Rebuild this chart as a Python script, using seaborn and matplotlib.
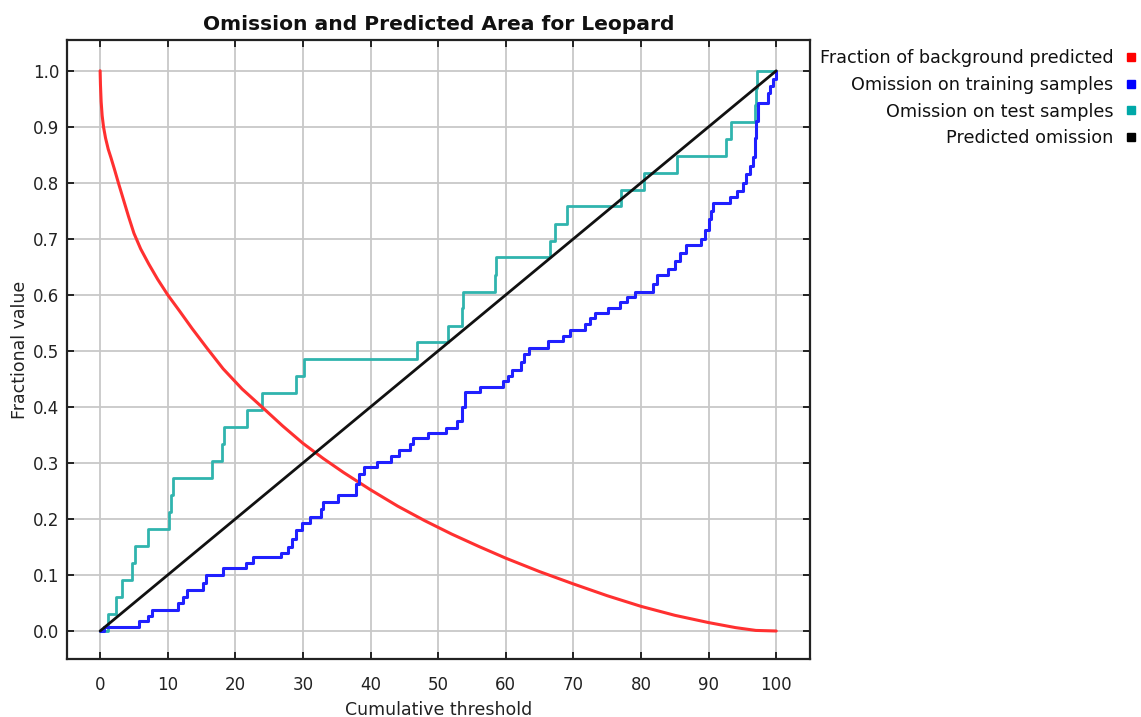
import matplotlib
matplotlib.use("Agg")
import matplotlib.pyplot as plt
from matplotlib.lines import Line2D
import seaborn as sns
import pandas as pd

# ---------------- data ----------------
title = "Omission and Predicted Area for Leopard"
x_label = "Cumulative threshold"
y_label = "Fractional value"

series_names = ["Fraction of background predicted",
                "Omission on training samples",
                "Omission on test samples",
                "Predicted omission"]

# Fraction of background predicted (smooth curve)
bg_x = [0, 0.05, 0.15, 0.3, 0.5, 0.8, 1.2, 1.6, 2.1, 2.7, 3.4, 4.2, 5.0, 6.0,
        7.2, 8.5, 10.0, 11.7, 13.6, 15.8, 18.2, 21.0, 24.2, 27.0, 30.0, 33.0,
        36.0, 40.0, 44.0, 48.0, 52.0, 56.0, 60.0, 65.0, 70.0, 75.0, 80.0, 85.0,
        90.0, 94.0, 97.0, 100.0]
bg_y = [1.0, 0.975, 0.945, 0.92, 0.90, 0.88, 0.86, 0.845, 0.825, 0.80, 0.772,
        0.74, 0.71, 0.682, 0.655, 0.628, 0.60, 0.572, 0.54, 0.505, 0.468, 0.432,
        0.397, 0.366, 0.335, 0.308, 0.283, 0.252, 0.223, 0.197, 0.173, 0.151,
        0.13, 0.106, 0.084, 0.063, 0.044, 0.028, 0.015, 0.006, 0.001, 0.0]

# Omission on training samples (step curve: threshold, value after step)
train_x = [0, 0.5, 5.7, 7.1, 7.7, 11.5, 12.2, 12.8, 15.2, 15.7, 18.2, 21.6, 22.6,
           26.7, 27.8, 28.4, 29.0, 29.8, 31.0, 32.6, 33.0, 35.2, 37.8, 38.3, 39.0,
           40.9, 43.0, 44.2, 45.9, 46.3, 48.5, 51.2, 52.8, 53.5, 53.9, 56.2, 59.6,
           60.3, 60.9, 62.2, 62.7, 63.4, 66.3, 68.5, 69.5, 71.7, 72.5, 73.2, 75.1,
           76.9, 78.0, 79.1, 81.8, 82.3, 84.0, 85.0, 85.8, 86.6, 88.9, 89.5, 90.0,
           90.4, 90.7, 93.2, 94.2, 95.1, 95.6, 96.1, 96.6, 96.8, 97.0, 97.3, 98.8,
           99.1, 99.5, 99.9]
train_y = [0.0, 0.008, 0.017, 0.026, 0.038, 0.05, 0.06, 0.073, 0.085, 0.10, 0.112,
           0.122, 0.132, 0.14, 0.15, 0.165, 0.18, 0.193, 0.204, 0.217, 0.231, 0.243,
           0.262, 0.28, 0.293, 0.302, 0.312, 0.323, 0.334, 0.344, 0.353, 0.363,
           0.374, 0.40, 0.427, 0.436, 0.446, 0.456, 0.466, 0.48, 0.494, 0.505,
           0.517, 0.527, 0.537, 0.548, 0.558, 0.568, 0.577, 0.587, 0.597, 0.606,
           0.62, 0.636, 0.646, 0.66, 0.675, 0.689, 0.70, 0.716, 0.735, 0.75, 0.764,
           0.775, 0.785, 0.80, 0.815, 0.83, 0.847, 0.88, 0.91, 0.943, 0.96, 0.972,
           0.985, 1.0]

# Omission on test samples (step curve: threshold, value after step)
test_x = [0, 1.1, 2.4, 3.3, 4.7, 5.2, 7.1, 10.2, 10.5, 10.8, 16.5, 18.1, 18.3,
          21.7, 23.9, 28.9, 30.1, 46.8, 51.5, 53.5, 53.6, 58.4, 58.6, 66.6, 67.3,
          69.0, 77.1, 80.5, 85.3, 92.6, 93.3, 96.8, 97.0, 97.1, 100.0]
test_y = [0.0, 0.030, 0.061, 0.091, 0.121, 0.152, 0.182, 0.212, 0.242, 0.273,
          0.303, 0.333, 0.364, 0.394, 0.424, 0.455, 0.485, 0.515, 0.545, 0.576,
          0.606, 0.636, 0.667, 0.697, 0.727, 0.758, 0.788, 0.818, 0.848, 0.879,
          0.909, 0.939, 0.970, 1.0, 1.0]

# Predicted omission
pred_x = [0, 100]
pred_y = [0.0, 1.0]

x_ticks = [0, 10, 20, 30, 40, 50, 60, 70, 80, 90, 100]
y_ticks = [0.0, 0.1, 0.2, 0.3, 0.4, 0.5, 0.6, 0.7, 0.8, 0.9, 1.0]

line_colors = ["#ff3030", "#2020ff", "#30b4ae", "#111111"]
legend_colors = ["#ff0000", "#0000ff", "#00a8a8", "#000000"]

# ---------------- plotting ----------------
sns.set_theme(style="white")
plt.rcParams["font.family"] = ["DejaVu Sans"]

fig = plt.figure(figsize=(11.41, 7.17), dpi=100)
ax = fig.add_axes([67 / 1141, 1 - 659 / 717, (810 - 67) / 1141, (659 - 40) / 717])

df_bg = pd.DataFrame({"x": bg_x, "y": bg_y})
df_tr = pd.DataFrame({"x": train_x, "y": train_y})
df_te = pd.DataFrame({"x": test_x, "y": test_y})
df_pr = pd.DataFrame({"x": pred_x, "y": pred_y})

sns.lineplot(data=df_bg, x="x", y="y", ax=ax, color=line_colors[0], lw=2.2,
             estimator=None, sort=False, zorder=4)
sns.lineplot(data=df_tr, x="x", y="y", ax=ax, color=line_colors[1], lw=2.2,
             estimator=None, sort=False, drawstyle="steps-post", zorder=5)
sns.lineplot(data=df_te, x="x", y="y", ax=ax, color=line_colors[2], lw=2.0,
             estimator=None, sort=False, drawstyle="steps-post", zorder=3)
sns.lineplot(data=df_pr, x="x", y="y", ax=ax, color=line_colors[3], lw=2.0,
             estimator=None, sort=False, zorder=6)

ax.set_xlim(-4.9, 105.0)
ax.set_ylim(-0.05, 1.055)
ax.set_xticks(x_ticks)
ax.set_yticks(y_ticks)
ax.set_xticklabels([str(t) for t in x_ticks])
ax.set_yticklabels([f"{t:.1f}" for t in y_ticks])

ax.grid(True, color="#c8c8c8", lw=1.3, zorder=0)
ax.set_axisbelow(True)
for s in ax.spines.values():
    s.set_color("#222222")
    s.set_linewidth(1.6)

ax.tick_params(axis="both", direction="in", length=5, width=1.4, color="#222222",
               labelsize=12, labelcolor="#222222")
ax.tick_params(axis="x", pad=12, top=True, bottom=True)
ax.tick_params(axis="y", pad=5.5, left=True, right=True)

ax.set_xlabel(x_label, fontsize=12.5, color="#222222", labelpad=5)
ax.set_ylabel(y_label, fontsize=12.5, color="#222222", labelpad=3)
ax.set_title(title, fontsize=14.6, fontweight="bold", color="#111111", pad=7)

handles = [Line2D([0], [0], marker="s", linestyle="none", markersize=6,
                  markerfacecolor=c, markeredgecolor=c) for c in legend_colors]
fig.legend(handles, series_names, loc="upper right",
           bbox_to_anchor=(1138 / 1141, 1 - 49 / 717), frameon=False,
           markerfirst=False, fontsize=12.7, labelspacing=0.5, borderpad=0,
           borderaxespad=0, handletextpad=0.6, handlelength=0.8,
           labelcolor="#111111")

fig.savefig("out.png", dpi=100)
